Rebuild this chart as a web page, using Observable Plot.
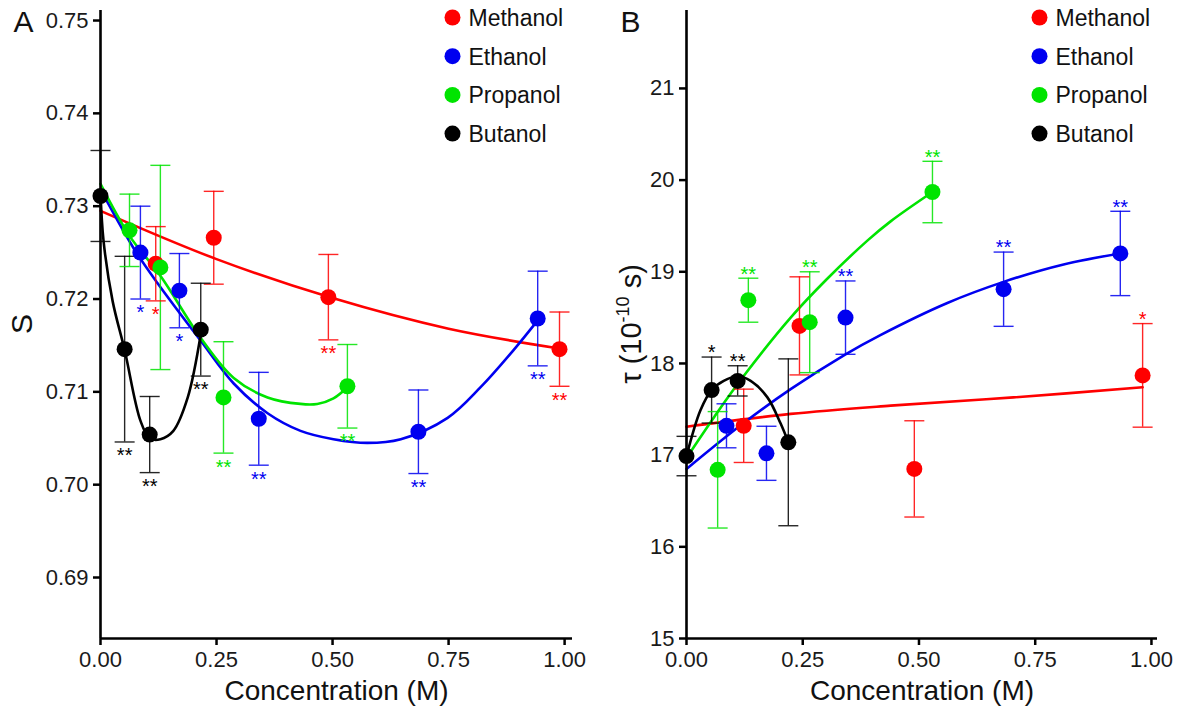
<!DOCTYPE html>
<html><head><meta charset="utf-8">
<script src="https://cdn.jsdelivr.net/npm/d3@7"></script>
<script src="https://cdn.jsdelivr.net/npm/@observablehq/plot@0.6"></script>
<style>
body{margin:0;background:#fff;}
#wrap{display:flex;width:1180px;height:709px;overflow:hidden;}
</style></head><body><div id="wrap"></div>
<script>
// ---------- shared ----------
const alcohols = ["Methanol", "Ethanol", "Propanol", "Butanol"];
const colors = ["#ff0000", "#0000f0", "#00e400", "#000000"];
const xTicks = [0, 0.25, 0.5, 0.75, 1];
const sTicks = [0.69, 0.70, 0.71, 0.72, 0.73, 0.74, 0.75];
const tauTicks = [15, 16, 17, 18, 19, 20, 21];

// ---------- Panel A: order parameter S ----------
const methanolA_conc = [0.119, 0.244, 0.491, 0.989];
const methanolA_S    = [0.7238, 0.7266, 0.7202, 0.7146];
const methanolA_err  = [0.0040, 0.0050, 0.0046, 0.0040];
const methanolA_sig  = ["*", "", "**", "**"];

const ethanolA_conc = [0.086, 0.170, 0.341, 0.685, 0.942];
const ethanolA_S    = [0.7250, 0.7209, 0.7071, 0.7057, 0.7179];
const ethanolA_err  = [0.0050, 0.0040, 0.0050, 0.0045, 0.0051];
const ethanolA_sig  = ["*", "*", "**", "**", "**"];

const propanolA_conc = [0.0625, 0.129, 0.265, 0.532];
const propanolA_S    = [0.7274, 0.7234, 0.7094, 0.7106];
const propanolA_err  = [0.0039, 0.0110, 0.0060, 0.0045];
const propanolA_sig  = ["", "", "**", "**"];

const butanolA_conc = [0, 0.052, 0.106, 0.216];
const butanolA_S    = [0.7311, 0.7146, 0.7054, 0.7167];
const butanolA_err  = [0.0049, 0.0100, 0.0041, 0.0050];
const butanolA_sig  = ["", "**", "**", "**"];

// fitted curves (panel A)
const fitMethanolA_x = [0, 0.25, 0.5, 0.75, 0.985];
const fitMethanolA_S = [0.7295, 0.7243, 0.7201, 0.7168, 0.7147];
const fitEthanolA_x = [0, 0.071, 0.123, 0.216, 0.287, 0.360, 0.431, 0.502, 0.575, 0.647, 0.748, 0.819, 0.890, 0.942];
const fitEthanolA_S = [0.7318, 0.7255, 0.7217, 0.7155, 0.7109, 0.7077, 0.7058, 0.7049, 0.7045, 0.7049, 0.7072, 0.7105, 0.7145, 0.7177];
const fitPropanolA_x = [0, 0.0625, 0.129, 0.216, 0.287, 0.360, 0.431, 0.467, 0.502, 0.532];
const fitPropanolA_S = [0.7324, 0.7268, 0.7225, 0.7158, 0.7115, 0.7094, 0.7087, 0.7087, 0.7093, 0.7105];
const fitButanolA_x = [0, 0.0065, 0.026, 0.052, 0.086, 0.106, 0.129, 0.157, 0.188, 0.216];
const fitButanolA_S = [0.7315, 0.7263, 0.7198, 0.7145, 0.7069, 0.7050, 0.7049, 0.7058, 0.7094, 0.7162];

// ---------- Panel B: correlation time tau ----------
const methanolB_conc = [0.123, 0.243, 0.490, 0.981];
const methanolB_tau  = [17.32, 18.41, 16.85, 17.87];
const methanolB_err  = [0.40, 0.535, 0.525, 0.565];
const methanolB_sig  = ["", "", "", "*"];

const ethanolB_conc = [0.086, 0.172, 0.342, 0.682, 0.933];
const ethanolB_tau  = [17.32, 17.02, 18.50, 18.81, 19.20];
const ethanolB_err  = [0.24, 0.295, 0.40, 0.405, 0.46];
const ethanolB_sig  = ["", "", "**", "**", "**"];

const propanolB_conc = [0.067, 0.133, 0.265, 0.529];
const propanolB_tau  = [16.84, 18.69, 18.45, 19.87];
const propanolB_err  = [0.635, 0.24, 0.55, 0.335];
const propanolB_sig  = ["", "**", "**", "**"];

const butanolB_conc = [0, 0.054, 0.110, 0.219];
const butanolB_tau  = [16.99, 17.71, 17.81, 17.14];
const butanolB_err  = [0.215, 0.36, 0.165, 0.91];
const butanolB_sig  = ["", "*", "**", ""];

// fitted curves (panel B)
const fitMethanolB_x = [0, 0.224, 0.439, 0.703, 0.981];
const fitMethanolB_tau = [17.31, 17.45, 17.54, 17.63, 17.74];
const fitEthanolB_x = [0, 0.12, 0.224, 0.342, 0.417, 0.561, 0.682, 0.811, 0.933];
const fitEthanolB_tau = [16.85, 17.34, 17.72, 18.10, 18.31, 18.66, 18.89, 19.08, 19.20];
const fitPropanolB_x = [0, 0.06, 0.118, 0.224, 0.30, 0.389, 0.439, 0.529];
const fitPropanolB_tau = [16.97, 17.42, 17.83, 18.50, 18.91, 19.34, 19.55, 19.87];
const fitButanolB_x = [0, 0.030, 0.054, 0.080, 0.110, 0.138, 0.174, 0.202, 0.219];
const fitButanolB_tau = [16.99, 17.49, 17.71, 17.81, 17.86, 17.81, 17.63, 17.35, 17.14];

// ---------- builder ----------
const FONT = "'Liberation Sans', Arial, Helvetica, sans-serif";
const cap = {draw(ctx) { ctx.moveTo(-10, 0); ctx.lineTo(10, 0); }};

function buildPanel(cfg) {
  const rows = [];
  cfg.series.forEach((s, i) => s.conc.forEach((c, j) => rows.push({
    alcohol: alcohols[i], x: c, y: s.mean[j],
    lo: s.mean[j] - s.err[j], hi: s.mean[j] + s.err[j], sig: s.sig[j]
  })));
  const fitRows = [];
  cfg.fits.forEach((f, i) => f.x.forEach((c, j) => fitRows.push({alcohol: alcohols[i], x: c, y: f.y[j]})));

  const legend = [];
  alcohols.forEach((a, i) => {
    legend.push(Plot.dot([a], {frameAnchor: "top-left", dx: cfg.legendDx, dy: 7 + 38.7 * i, r: 8, fill: colors[i]}));
    legend.push(Plot.text([a], {frameAnchor: "top-left", lineAnchor: "middle", dx: cfg.legendDx + 16, dy: 8 + 38.7 * i,
      text: d => d, textAnchor: "start", fontSize: 23, fill: "#111"}));
  });

  const svg = Plot.plot({
    width: 590, height: 709,
    marginTop: 10, marginBottom: 71, marginLeft: cfg.marginLeft, marginRight: cfg.marginRight,
    style: {fontFamily: FONT, background: "white", color: "#000", overflow: "visible"},
    x: {domain: [0, cfg.xMax]},
    y: {domain: cfg.yDomain},
    color: {domain: alcohols, range: colors},
    marks: [
      Plot.line(fitRows, {x: "x", y: "y", z: "alcohol", stroke: "alcohol", strokeWidth: 2.6, curve: "catmull-rom"}),
      Plot.ruleX(rows, {x: "x", y1: "lo", y2: "hi", stroke: "alcohol", strokeWidth: 1.4, strokeOpacity: 0.85}),
      Plot.dot(rows, {x: "x", y: "lo", symbol: cap, stroke: "alcohol", fill: "none", strokeWidth: 1.4, strokeOpacity: 0.85}),
      Plot.dot(rows, {x: "x", y: "hi", symbol: cap, stroke: "alcohol", fill: "none", strokeWidth: 1.4, strokeOpacity: 0.85}),
      Plot.dot(rows, {x: "x", y: "y", fill: "alcohol", r: 8}),
      Plot.text(rows.filter(d => d.sig), {x: "x", y: cfg.sigBelow ? "lo" : "hi", text: "sig", fill: "alcohol",
        fontSize: 20, lineAnchor: "middle", dy: cfg.sigBelow ? 14 : -4}),
      Plot.ruleX([0], {stroke: "#000", strokeWidth: 2.6}),
      Plot.ruleY([cfg.yDomain[0]], {stroke: "#000", strokeWidth: 2.6}),
      Plot.axisX({ticks: xTicks, tickFormat: d3.format(".2f"), tickSize: 7, tickPadding: 6, fontSize: 22,
        strokeWidth: 2.5, label: null, fill: "#1a1a1a"}),
      Plot.axisY({ticks: cfg.yTicks, tickFormat: cfg.yFormat, tickSize: 7, tickPadding: 5, fontSize: 22,
        strokeWidth: 2.5, label: null, fill: "#1a1a1a"}),
      Plot.text(["Concentration (M)"], {frameAnchor: "bottom", lineAnchor: "middle", dy: 53, text: d => d,
        fontSize: 28, fill: "#111"}),
      Plot.text([cfg.letter], {frameAnchor: "top-left", lineAnchor: "middle", dx: cfg.letterDx, dy: 12, text: d => d,
        fontSize: 30, textAnchor: "start", fill: "#111"}),
      ...legend
    ]
  });
  return svg;
}

const svgA = buildPanel({
  marginLeft: 100, marginRight: 18, xMax: 1.017,
  yDomain: [0.68343, 0.75108], yTicks: sTicks, yFormat: d3.format(".2f"),
  sigBelow: true, legendDx: 352, letter: "A", letterDx: -87,
  series: [
    {conc: methanolA_conc, mean: methanolA_S, err: methanolA_err, sig: methanolA_sig},
    {conc: ethanolA_conc, mean: ethanolA_S, err: ethanolA_err, sig: ethanolA_sig},
    {conc: propanolA_conc, mean: propanolA_S, err: propanolA_err, sig: propanolA_sig},
    {conc: butanolA_conc, mean: butanolA_S, err: butanolA_err, sig: butanolA_sig}
  ],
  fits: [
    {x: fitMethanolA_x, y: fitMethanolA_S},
    {x: fitEthanolA_x, y: fitEthanolA_S},
    {x: fitPropanolA_x, y: fitPropanolA_S},
    {x: fitButanolA_x, y: fitButanolA_S}
  ]
});

const svgB = buildPanel({
  marginLeft: 96, marginRight: 23, xMax: 1.013,
  yDomain: [15, 21.85], yTicks: tauTicks, yFormat: d3.format("d"),
  sigBelow: false, legendDx: 353, letter: "B", letterDx: -66,
  series: [
    {conc: methanolB_conc, mean: methanolB_tau, err: methanolB_err, sig: methanolB_sig},
    {conc: ethanolB_conc, mean: ethanolB_tau, err: ethanolB_err, sig: ethanolB_sig},
    {conc: propanolB_conc, mean: propanolB_tau, err: propanolB_err, sig: propanolB_sig},
    {conc: butanolB_conc, mean: butanolB_tau, err: butanolB_err, sig: butanolB_sig}
  ],
  fits: [
    {x: fitMethanolB_x, y: fitMethanolB_tau},
    {x: fitEthanolB_x, y: fitEthanolB_tau},
    {x: fitPropanolB_x, y: fitPropanolB_tau},
    {x: fitButanolB_x, y: fitButanolB_tau}
  ]
});

// y-axis titles
d3.select(svgA).append("text")
  .attr("transform", "translate(21,324) rotate(-90)")
  .attr("text-anchor", "middle").attr("dy", "0.35em")
  .attr("font-size", 30).attr("fill", "#111").attr("font-family", FONT)
  .text("S");

const tauLabel = d3.select(svgB).append("text")
  .attr("transform", "translate(41,324) rotate(-90)")
  .attr("text-anchor", "middle").attr("dy", "0.35em")
  .attr("font-size", 29).attr("fill", "#111").attr("font-family", FONT);
tauLabel.append("tspan").text("τ (10");
tauLabel.append("tspan").attr("font-size", 18).attr("dy", -12).text("-10");
tauLabel.append("tspan").attr("dy", 12).text(" s)");

const wrap = document.getElementById("wrap");
wrap.appendChild(svgA);
wrap.appendChild(svgB);
</script></body></html>
